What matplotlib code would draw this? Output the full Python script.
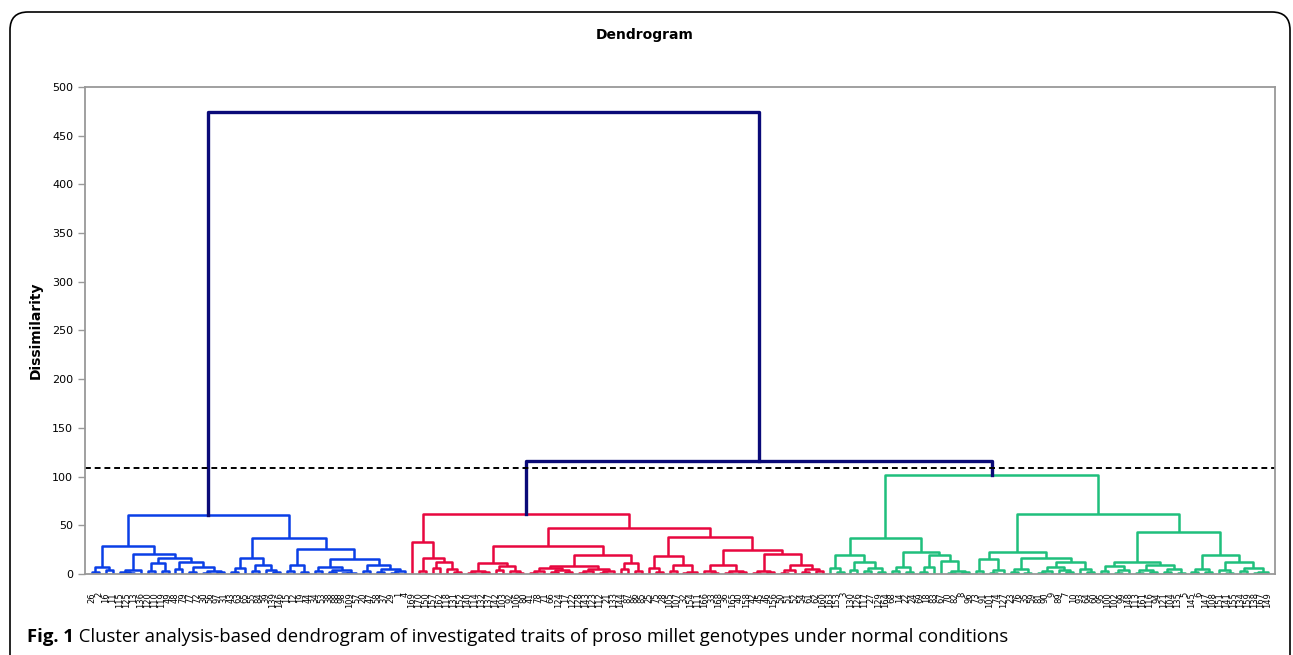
import matplotlib.pyplot as plt
from matplotlib.patches import FancyBboxPatch
from matplotlib.transforms import IdentityTransform

# Dendrogram data: a node is [dissimilarity, left, right], a leaf is a genotype number
# Blue cluster
blue_left = [29,
             [7.5, [2, 26, 2], [4, 16, 11]],
             [20.5,
              [4, [2.5, 115, [1.5, 125, 13]], 136],
              [16.5,
               [11, [3, 120, 110], [3.5, 119, 49]],
               [12.5, [5, 48, 79], [7.5, [2, 77, 72], [3, [1.5, 30, 56], [2.5, 97, 31]]]]]]]
blue_right = [36.6,
              [16, [5.7, [2.5, 43, 63], 65], [9, [3, 55, 84], [4.5, 39, [2, 139, 146]]]],
              [26,
               [9.7, [3, 15, 12], [2, 19, 44]],
               [15,
                [7.5, [3, 34, 53], [4, [2, 38, 88], [1.5, [1, 98, 109], 57]]],
                [9, [3.5, 20, 47], [5, [2, 58, 37], [3, [1.5, 29, 1], 4]]]]]]

# Red cluster
red_left = [33, 169,
            [16.5, [3, 170, 150], [12, [6, 157, 162], [5, 118, [2.5, 131, 152]]]]]
red_mid = [29,
           [11.5, [3, [1.5, 140, 114], [2, 132, 137]], [8, [4, 142, 103], [3, 92, [1.5, 106, 80]]]],
           [20,
            [8, [6, [3, [1.5, 41, 78], 71], [4, [2, 66, 124], [2.5, 17, 122]]],
             [5, [3, [1.5, 128, 143], 123], [3.5, [1.5, 112, 21], 133]]],
            [11, [5, 144, 87], [3, 86, 85]]]]
red_right = [37.6,
             [18, [6, 25, [2.5, 75, 28]], [9, [3, 105, 107], [2.5, [1.5, 32, 154], 111]]],
             [24.5,
              [9.3, [3, 166, [1.5, 33, 168]], [3.5, [1.5, 36, 165], [2, 40, 158]]],
              [21, [3, [1.5, 42, 45], [2, 46, 156]],
               [9, [4, [1.5, 50, 51], 52], [5, [2, 54, 61], [3, 62, 160]]]]]]

# Green cluster
green_left = [36.6,
              [20, [5.7, 163, [2.5, 153, 3]], [12.5, [4, 130, 126], [6, [3, 117, 27], [2, 129, 164]]]],
              [23, [7.5, [3, 68, 14], [2.5, 22, 24]],
               [19.5, [7.5, [2, 69, 18], 83], [13, 67, [3, [1.5, 70, 82], [2, 8, 96]]]]]]
green_mid = [23,
             [15, [3, 73, 91], [4, [1.5, 101, 74], 127]],
             [16, [5, [2, 23, 76], [1.5, 35, 59]],
              [12, [7.5, [3, [1.5, 81, 90], 9], [4, 89, [2, 7, 10]]], [5, 93, [2, 64, 60]]]]]
green_right = [43.5,
               [12, [8, [3, 95, 100], [4, [1.5, 102, 99], 148]],
                [9, [4, [1.5, 113, 161], [2, 116, 94]], [5, [2.5, 121, 104], [1.5, 135, 5]]]],
               [20, [5, [2, 145, 6], [2.5, 147, 108]],
                [12, [4, 151, [1.5, 141, 155]], [6, [3, 134, 159], [2.5, [1.5, 138, 167], 149]]]]]

blue = [60.6, blue_left, blue_right]
red = [61.6, red_left, [47, red_mid, red_right]]
green = [101.6, green_left, [61.6, green_mid, green_right]]
root_heights = [474, 116]
cut_level = 109

colors = {'blue': '#0a3fe6', 'red': '#e8073f', 'green': '#1fbf7c', 'top': '#0a0a78'}

leaf_labels = []


def draw(node, ax, color, lw=1.8):
    """Draw a subtree, return (x, height) of its top"""
    if not isinstance(node, list):
        leaf_labels.append(str(node))
        return len(leaf_labels) - 1, 0
    h, left, right = node
    xl, hl = draw(left, ax, color, lw)
    xr, hr = draw(right, ax, color, lw)
    ax.plot([xl, xl, xr, xr], [hl, h, h, hr], color=color, lw=lw, solid_capstyle='butt')
    return (xl + xr) / 2, h


fig = plt.figure(figsize=(12.93, 6.55), dpi=100)
ax = fig.add_axes([85 / 1293, 1 - 574 / 655, 1190 / 1293, 487 / 655])

xb, hb = draw(blue, ax, colors['blue'])
xr, hr = draw(red, ax, colors['red'])
xg, hg = draw(green, ax, colors['green'])
ax.plot([xr, xr, xg, xg], [hr, root_heights[1], root_heights[1], hg], color=colors['top'], lw=2.4)
xrg = (xr + xg) / 2
ax.plot([xb, xb, xrg, xrg], [hb, root_heights[0], root_heights[0], root_heights[1]],
        color=colors['top'], lw=2.4)

n = len(leaf_labels)
ax.axhline(cut_level, color='black', ls=(0, (3, 2)), lw=1.4)

ax.set_xlim(-1, n)
ax.set_ylim(0, 500)
ax.set_yticks(range(0, 501, 50))
ax.set_xticks(range(n))
ax.set_xticklabels(leaf_labels, rotation=90, fontsize=6)
ax.tick_params(axis='x', length=0, pad=13)
ax.tick_params(axis='y', length=5, color='#999999', labelsize=8, width=1)
for s in ax.spines.values():
    s.set_color('#999999')
    s.set_linewidth(1.3)

fig.text(645 / 1293, 1 - 35 / 655, 'Dendrogram', ha='center', va='center',
         fontsize=10, fontweight='bold')
fig.text(36 / 1293, 1 - 330 / 655, 'Dissimilarity', ha='center', va='center',
         rotation=90, fontsize=10, fontweight='bold')

t1 = fig.text(27 / 1293, 1 - 637 / 655, 'Fig. 1', ha='left', va='center',
              fontsize=13.3, fontweight='bold', family='Open Sans')
ax.annotate(' Cluster analysis-based dendrogram of investigated traits of proso millet '
            'genotypes under normal conditions', xy=(1, 0.5), xycoords=t1,
            ha='left', va='center', fontsize=13.3, family='Open Sans', annotation_clip=False)

frame = FancyBboxPatch((10, -30), 1280, 673, boxstyle='round,pad=0,rounding_size=18',
                       transform=IdentityTransform(), fill=False, ec='black', lw=1.2)
fig.add_artist(frame)

fig.savefig('out.png', dpi=100)
